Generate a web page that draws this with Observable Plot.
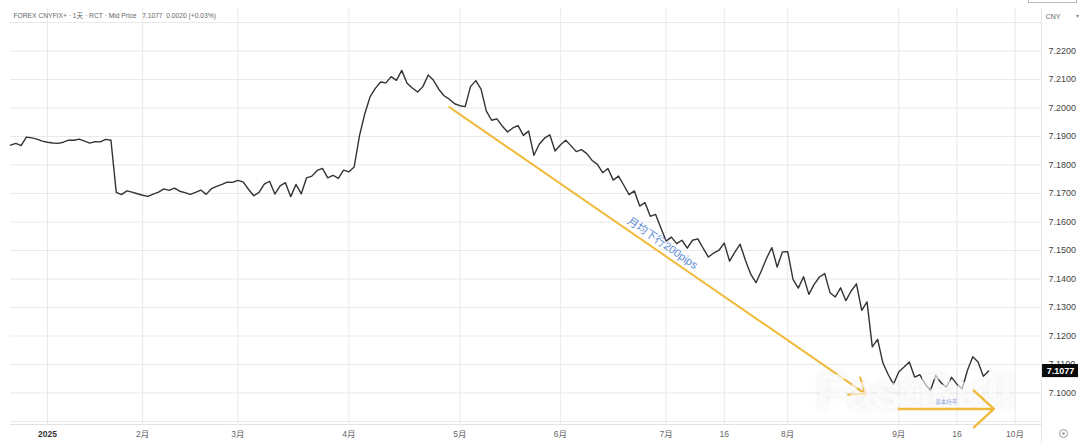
<!DOCTYPE html>
<html>
<head>
<meta charset="utf-8">
<script src="https://cdn.jsdelivr.net/npm/d3@7"></script>
<script src="https://cdn.jsdelivr.net/npm/@observablehq/plot@0.6"></script>
<style>
html,body{margin:0;padding:0;background:#fff;overflow:hidden}
#chart{position:relative;width:1080px;height:446px}
#box{position:absolute;left:1028px;top:-2px;width:47px;height:3px;border:1px solid #bbb}
</style>
</head>
<body>
<div id="chart"><div id="box"></div></div>
<script>
const prices = [
7.1870,7.1876,7.1868,7.1898,7.1895,7.1891,7.1884,7.1880,7.1877,7.1876,
7.1880,7.1887,7.1887,7.1891,7.1884,7.1877,7.1882,7.1881,7.1890,7.1887,
7.1704,7.1696,7.1709,7.1705,7.1699,7.1694,7.1690,7.1698,7.1705,7.1716,
7.1711,7.1719,7.1708,7.1703,7.1697,7.1704,7.1712,7.1697,7.1717,7.1725,
7.1732,7.1740,7.1739,7.1746,7.1741,7.1715,7.1692,7.1704,7.1733,7.1743,
7.1698,7.1727,7.1738,7.1689,7.1732,7.1699,7.1755,7.1761,7.1781,7.1788,
7.1755,7.1764,7.1753,7.1782,7.1776,7.1793,7.1902,7.1979,7.2039,7.2069,
7.2091,7.2088,7.2110,7.2097,7.2132,7.2087,7.2070,7.2056,7.2075,7.2116,
7.2097,7.2066,7.2043,7.2031,7.2015,7.2008,7.2005,7.2075,7.2096,7.2066,
7.1989,7.1957,7.1962,7.1937,7.1916,7.1930,7.1938,7.1904,7.1919,7.1834,
7.1873,7.1894,7.1906,7.1849,7.1870,7.1887,7.1868,7.1847,7.1854,7.1840,
7.1816,7.1802,7.1773,7.1788,7.1747,7.1761,7.1729,7.1696,7.1709,7.1656,
7.1668,7.1620,7.1627,7.1580,7.1533,7.1547,7.1524,7.1536,7.1508,7.1536,
7.1541,7.1508,7.1477,7.1491,7.1501,7.1526,7.1463,7.1494,7.1522,7.1466,
7.1417,7.1387,7.1428,7.1473,7.1510,7.1442,7.1495,7.1496,7.1399,7.1368,
7.1408,7.1346,7.1381,7.1407,7.1419,7.1352,7.1337,7.1369,7.1324,7.1358,
7.1383,7.1290,7.1320,7.1162,7.1188,7.1106,7.1065,7.1031,7.1074,7.1091,
7.1109,7.1056,7.1064,7.1031,7.1009,7.1062,7.1036,7.1021,7.1055,7.1031,
7.1015,7.1080,7.1127,7.1109,7.1059,7.1077
];
const tickBars = [7,25,43,64,85,104,124,135,147,168,179,190];
const tickLabels = ["2025","2月","3月","4月","5月","6月","7月","16","8月","9月","16","10月"];
const yTicks = [7.09,7.10,7.11,7.12,7.13,7.14,7.15,7.16,7.17,7.18,7.19,7.20,7.21,7.22,7.23];
const yLabelTicks = [7.10,7.11,7.12,7.13,7.14,7.15,7.16,7.17,7.18,7.19,7.20,7.21,7.22];
const headerText = "FOREX CNYFIX+ · 1天 · RCT · Mid Price   7.1077  0.0020 (+0.03%)";
const lastPrice = 7.1077;
const downArrow = [{x1:83,y1:7.2003,x2:161.7,y2:7.0997}];
const flatArrow = [{x1:168,y1:7.0944,x2:186,y2:7.0944}];
const noteDown = [{x:123.3,y:7.1526,t:"月均下行200pips"}];
const noteFlat = [{x:177,y:7.0967,t:"基本持平"}];
const watermark = [{x:171,y:7.1000,t:"FastBull"}];

const font = "'Liberation Sans','Noto Sans CJK SC',sans-serif";
const labelOf = new Map(tickBars.map((b,i)=>[b,tickLabels[i]]));
const rows = prices.map((p,i)=>({i,p}));
const gridColor = "#e9e9e9", textColor = "#444", amber = "#f0bb3c";

const chart = Plot.plot({
  width:1080, height:446,
  marginLeft:10, marginRight:39, marginTop:22, marginBottom:25,
  style:{fontFamily:font, background:"#fff"},
  x:{domain:[0,195]},
  y:{domain:[7.09,7.23]},
  marks:[
    Plot.gridY(yTicks,{stroke:gridColor,strokeOpacity:1,strokeWidth:1}),
    Plot.gridX(tickBars,{stroke:gridColor,strokeOpacity:1,strokeWidth:1,insetTop:-14,insetBottom:-3}),
    Plot.ruleY([7.09],{stroke:"#e3e3e3",dy:3}),
    Plot.ruleX([195],{stroke:"#e3e3e3",insetTop:-14,insetBottom:-22}),
    Plot.line(rows,{x:"i",y:"p",stroke:"#333",strokeWidth:1.4,strokeLinejoin:"round"}),
    Plot.arrow(downArrow,{x1:"x1",y1:"y1",x2:"x2",y2:"y2",stroke:amber,strokeWidth:2,bend:0,headLength:13,headAngle:75,insetEnd:0,insetStart:0}),
    Plot.text(watermark,{x:"x",y:"y",text:"t",fontSize:50,fontWeight:"bold",fill:"#fff",fillOpacity:0.62,imageFilter:"drop-shadow(0 0 3px rgba(0,0,0,.12))"}),
    Plot.arrow(flatArrow,{x1:"x1",y1:"y1",x2:"x2",y2:"y2",stroke:amber,strokeWidth:2.4,bend:0,headLength:17,headAngle:85,insetEnd:0,insetStart:0}),
    Plot.text(noteDown,{x:"x",y:"y",text:"t",rotate:34.5,fontSize:11,fill:"#5b8ad6"}),
    Plot.text(noteFlat,{x:"x",y:"y",text:"t",fontSize:5.5,fill:"#8ea6e0"}),
    Plot.axisY({anchor:"right",ticks:yLabelTicks,tickFormat:d3.format(".4f"),tickSize:0,tickPadding:7,fontSize:9,color:textColor,label:null}),
    Plot.axisX({ticks:tickBars.slice(1),tickFormat:d=>labelOf.get(d),tickSize:0,tickPadding:9,fontSize:8.5,color:"#666",label:null}),
    Plot.axisX({ticks:tickBars.slice(0,1),tickFormat:d=>labelOf.get(d),tickSize:0,tickPadding:9,fontSize:8.5,fontWeight:"bold",color:"#333",label:null}),
    Plot.rect([{x1:195.2,x2:202,y1:lastPrice-0.0023,y2:lastPrice+0.0023}],{x1:"x1",x2:"x2",y1:"y1",y2:"y2",fill:"#0a0a0a"}),
    Plot.text([lastPrice],{x:198.6,y:d=>d,text:d=>d3.format(".4f")(d),fontSize:9,fontWeight:"bold",fill:"#fff"}),
    Plot.text([headerText],{frameAnchor:"top-left",dx:3,dy:-7,fontSize:6.7,fill:"#666",textAnchor:"start",lineAnchor:"middle"}),
    Plot.text(["CNY"],{frameAnchor:"top-right",dx:19,dy:-6,fontSize:7,fill:"#666",textAnchor:"end",lineAnchor:"middle"}),
    Plot.text(["▾"],{frameAnchor:"top-right",dx:37,dy:-6,fontSize:6,fill:"#888",textAnchor:"end",lineAnchor:"middle"}),
    Plot.dot([0],{frameAnchor:"bottom-right",dx:22,dy:12,r:4,stroke:"#999",fill:"none",strokeWidth:1}),
    Plot.dot([0],{frameAnchor:"bottom-right",dx:22,dy:12,r:1.3,fill:"#999"})
  ]
});
document.getElementById("chart").appendChild(chart);
chart.style.display="block";
</script>
</body>
</html>
